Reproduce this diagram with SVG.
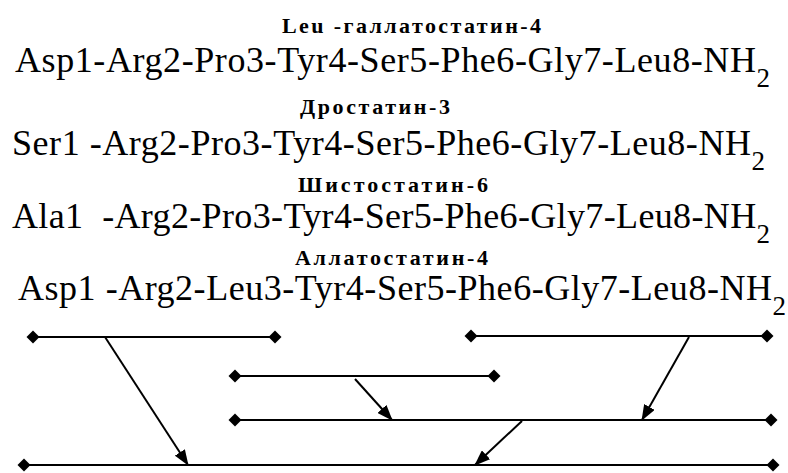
<svg xmlns="http://www.w3.org/2000/svg" width="788" height="473" viewBox="0 0 788 473">
<defs>
<style>
text{font-family:"Liberation Serif","Times New Roman",serif;fill:#000}
.t{font-weight:bold;font-size:22px}
.r{font-size:36px}
.sub{font-size:27px}
.ln{stroke:#000;stroke-width:2;fill:none;marker-start:url(#dia);marker-end:url(#dia)}
.ar{stroke:#000;stroke-width:2;fill:none;marker-end:url(#arr)}
</style>
<marker id="dia" viewBox="-7 -7 14 14" refX="0" refY="0" markerWidth="14" markerHeight="14" markerUnits="userSpaceOnUse" orient="auto">
<path d="M-6.5,0 L0,-6.5 L6.5,0 L0,6.5 Z" fill="#000"/>
</marker>
<marker id="arr" viewBox="0 0 16 12" refX="15" refY="6" markerWidth="16" markerHeight="12" markerUnits="userSpaceOnUse" orient="auto">
<path d="M0,0 L16,6 L0,12 Z" fill="#000"/>
</marker>
</defs>
<rect width="788" height="473" fill="#fff"/>
<g id="title1"><text class="t" x="282" y="33" textLength="259" lengthAdjust="spacing">Leu -галлатостатин-4</text></g>
<g id="seq1"><text class="r" x="15" y="72" textLength="755" lengthAdjust="spacing">Asp1-Arg2-Pro3-Tyr4-Ser5-Phe6-Gly7-Leu8-NH<tspan class="sub" dy="15">2</tspan></text></g>
<g id="title2"><text class="t" x="300" y="114" textLength="150" lengthAdjust="spacing">Дростатин-3</text></g>
<g id="seq2"><text class="r" x="12" y="155" textLength="753" lengthAdjust="spacing">Ser1 -Arg2-Pro3-Tyr4-Ser5-Phe6-Gly7-Leu8-NH<tspan class="sub" dy="15">2</tspan></text></g>
<g id="title3"><text class="t" x="298" y="192" textLength="190" lengthAdjust="spacing">Шистостатин-6</text></g>
<g id="seq3"><text class="r" x="12" y="228" textLength="758" lengthAdjust="spacing" style="white-space:pre">Ala1  -Arg2-Pro3-Tyr4-Ser5-Phe6-Gly7-Leu8-NH<tspan class="sub" dy="15">2</tspan></text></g>
<g id="title4"><text class="t" x="295" y="265" textLength="193" lengthAdjust="spacing">Аллатостатин-4</text></g>
<g id="seq4"><text class="r" x="18" y="300" textLength="768" lengthAdjust="spacing">Asp1 -Arg2-Leu3-Tyr4-Ser5-Phe6-Gly7-Leu8-NH<tspan class="sub" dy="15">2</tspan></text></g>
<g id="connectors">
<line class="ln" x1="33" y1="337" x2="275" y2="337"/>
<line class="ln" x1="471" y1="336" x2="767" y2="336"/>
<line class="ln" x1="235" y1="376" x2="494" y2="376"/>
<line class="ln" x1="235" y1="420" x2="771" y2="420"/>
<line class="ln" x1="24" y1="465" x2="773" y2="465"/>
<line class="ar" x1="105" y1="337" x2="188" y2="465"/>
<line class="ar" x1="355" y1="379" x2="392" y2="420"/>
<line class="ar" x1="689" y1="337" x2="642" y2="420"/>
<line class="ar" x1="522" y1="421" x2="475" y2="465"/>
</g>
</svg>
